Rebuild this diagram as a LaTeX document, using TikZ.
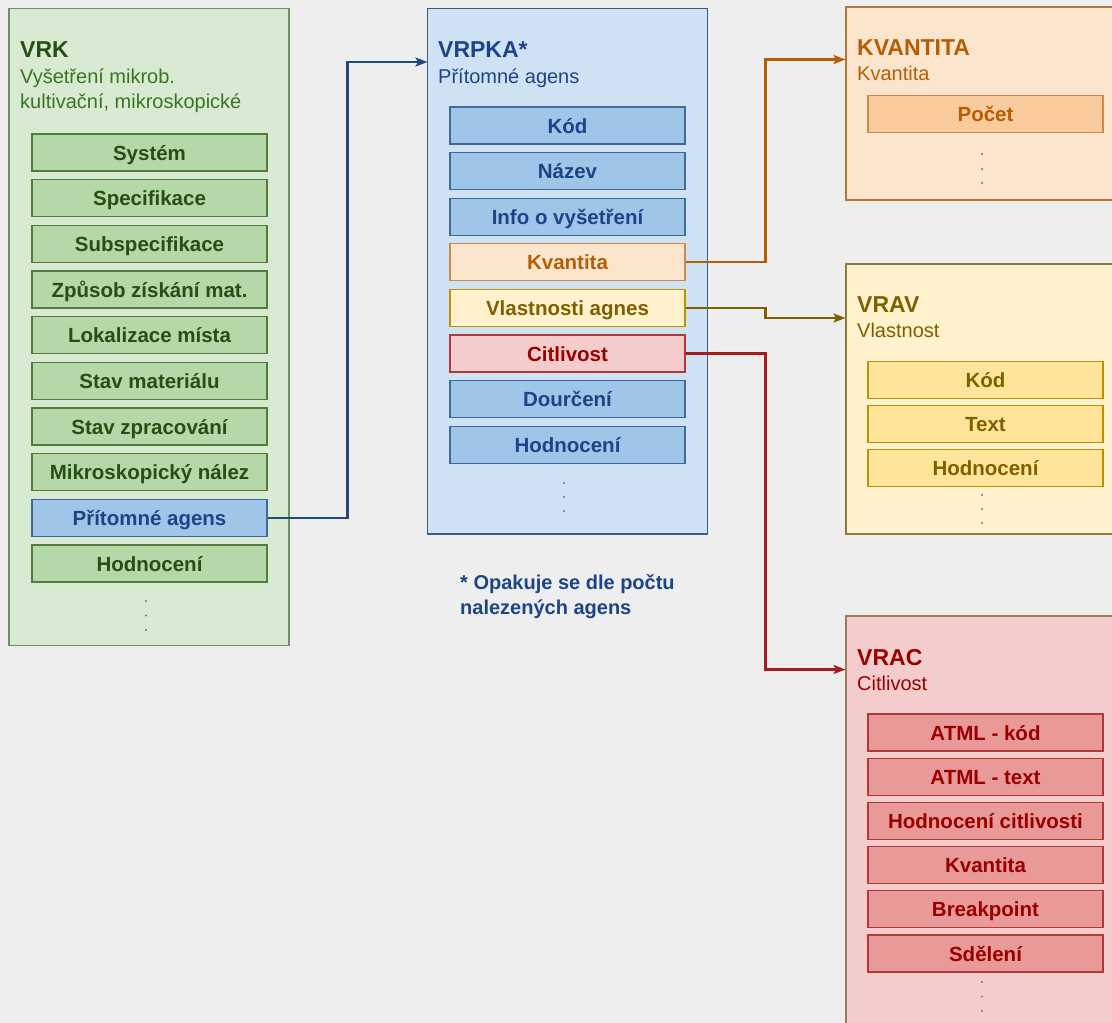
\documentclass[tikz,border=0pt]{standalone}
\usepackage{fontspec}
\setmainfont{Liberation Sans}
\usetikzlibrary{arrows.meta}
\definecolor{bg}{HTML}{EEEEEE}
% green
\definecolor{gOut}{HTML}{D9EAD3}\definecolor{gOutB}{HTML}{6E8F62}
\definecolor{gIt}{HTML}{B6D7A8}\definecolor{gItB}{HTML}{4F7D3C}
\definecolor{gTxt}{HTML}{274E13}\definecolor{gSub}{HTML}{38761D}
% blue
\definecolor{bOut}{HTML}{CFE2F3}\definecolor{bOutB}{HTML}{3D5A80}
\definecolor{bIt}{HTML}{9FC5E8}\definecolor{bItB}{HTML}{3D6A99}
\definecolor{bTxt}{HTML}{1C4587}\definecolor{bLine}{HTML}{1F4A7C}
% orange
\definecolor{oOut}{HTML}{FCE5CD}\definecolor{oOutB}{HTML}{B4773A}
\definecolor{oIt}{HTML}{F9CB9C}\definecolor{oItB}{HTML}{C98A4A}
\definecolor{oTxt}{HTML}{B45F06}
% yellow
\definecolor{yOut}{HTML}{FFF2CC}\definecolor{yOutB}{HTML}{8C7A3A}
\definecolor{yIt}{HTML}{FFE599}\definecolor{yItB}{HTML}{BF9000}
\definecolor{yTxt}{HTML}{7F6000}
% red
\definecolor{rOut}{HTML}{F4CCCC}\definecolor{rOutB}{HTML}{9C7A5A}
\definecolor{rIt}{HTML}{EA9999}\definecolor{rItB}{HTML}{B03A3A}
\definecolor{rTxt}{HTML}{990000}\definecolor{rLine}{HTML}{A61C1C}
\definecolor{dotc}{HTML}{777777}
\tikzset{
  outer/.style={draw, rectangle, line width=1.3pt, inner sep=0pt},
  item/.style={draw, rectangle, line width=1.1pt, inner sep=0pt,
    minimum width=235, minimum height=37, text height=15, text depth=0,
    font=\fontsize{20.5}{24}\selectfont\bfseries},
  ttl/.style={anchor=base west, inner sep=0pt, font=\fontsize{23}{27}\selectfont\bfseries},
  sub/.style={anchor=base west, inner sep=0pt, font=\fontsize{20}{24}\selectfont},
  gitem/.style={item, fill=gIt, draw=gItB, text=gTxt},
  bitem/.style={item, fill=bIt, draw=bItB, text=bTxt},
  oitem/.style={item, fill=oIt, draw=oItB, text=oTxt},
  yitem/.style={item, fill=yIt, draw=yItB, text=yTxt},
  ritem/.style={item, fill=rIt, draw=rItB, text=rTxt},
  conn/.style={line width=2.2pt, -{Stealth[length=12pt,width=9pt,inset=2.5pt]}},
  vdot/.style={fill=dotc}
}
\begin{document}
\begin{tikzpicture}[x=1pt,y=-1pt]
\useasboundingbox[fill=bg] (0,0) rectangle (1112,1023);

% ---------- VRK ----------
\node[outer, fill=gOut, draw=gOutB, minimum width=280, minimum height=636.5] (vrk) at (149,327) {};
\node[ttl, text=gTxt] (vrkT) at (20,57) {VRK};
\node[sub, text=gSub] (vrkS1) at (20,83) {Vyšetření mikrob.};
\node[sub, text=gSub] (vrkS2) at (20,108) {kultivační, mikroskopické};
\node[gitem] (k1) at (149.5,152.5) {Systém};
\node[gitem] (k2) at (149.5,198.2) {Specifikace};
\node[gitem] (k3) at (149.5,243.8) {Subspecifikace};
\node[gitem] (k4) at (149.5,289.5) {Způsob získání mat.};
\node[gitem] (k5) at (149.5,335.2) {Lokalizace místa};
\node[gitem] (k6) at (149.5,380.8) {Stav materiálu};
\node[gitem] (k7) at (149.5,426.5) {Stav zpracování};
\node[gitem] (k8) at (149.5,472.2) {Mikroskopický nález};
\node[bitem] (pa) at (149.5,517.8) {Přítomné agens};
\node[gitem] (k10) at (149.5,563.5) {Hodnocení};
\fill[vdot] (146,601) circle (1.1) (146,615.5) circle (1.1) (146,630) circle (1.1);

% ---------- VRPKA ----------
\node[outer, fill=bOut, draw=bOutB, minimum width=280, minimum height=525.5] (vrpka) at (567.5,271.3) {};
\node[ttl, text=bTxt] (vrpkaT) at (438,57) {VRPKA*};
\node[sub, text=bTxt] (vrpkaS) at (438,83) {Přítomné agens};
\node[bitem] (p1) at (567.5,125.5) {Kód};
\node[bitem] (p2) at (567.5,171.1) {Název};
\node[bitem] (p3) at (567.5,216.7) {Info o vyšetření};
\node[item, fill=oOut, draw=oItB, text=oTxt] (kv) at (567.5,262.3) {Kvantita};
\node[item, fill=yOut, draw=yItB, text=yTxt] (vl) at (567.5,307.9) {Vlastnosti agnes};
\node[item, fill=rOut, draw=rItB, text=rTxt] (ci) at (567.5,353.5) {Citlivost};
\node[bitem] (p7) at (567.5,399.1) {Dourčení};
\node[bitem] (p8) at (567.5,444.7) {Hodnocení};
\fill[vdot] (564,483) circle (1.1) (564,497) circle (1.1) (564,511) circle (1.1);

\node[anchor=base west, inner sep=0pt, text=bTxt, font=\fontsize{20}{24}\selectfont\bfseries] (note1) at (460,589) {* Opakuje se dle počtu};
\node[anchor=base west, inner sep=0pt, text=bTxt, font=\fontsize{20}{24}\selectfont\bfseries] (note2) at (460,614) {nalezených agens};

% ---------- KVANTITA ----------
\node[outer, fill=oOut, draw=oOutB, minimum width=280, minimum height=193] (kvb) at (986,103.5) {};
\node[ttl, text=oTxt] (kvT) at (857,55) {KVANTITA};
\node[sub, text=oTxt] (kvS) at (857,80) {Kvantita};
\node[oitem] (q1) at (985.5,114) {Počet};
\fill[vdot] (982,154) circle (1.1) (982,169) circle (1.1) (982,183) circle (1.1);

% ---------- VRAV ----------
\node[outer, fill=yOut, draw=yOutB, minimum width=280, minimum height=270] (vrav) at (986,399) {};
\node[ttl, text=yTxt] (vravT) at (857,312.5) {VRAV};
\node[sub, text=yTxt] (vravS) at (857,337) {Vlastnost};
\node[yitem] (v1) at (985.5,380) {Kód};
\node[yitem] (v2) at (985.5,424) {Text};
\node[yitem] (v3) at (985.5,468) {Hodnocení};
\fill[vdot] (982,495) circle (1.1) (982,509) circle (1.1) (982,523) circle (1.1);

% ---------- VRAC ----------
\node[outer, fill=rOut, draw=rOutB, minimum width=280, minimum height=430] (vrac) at (986,831) {};
\node[ttl, text=rTxt] (vracT) at (857,665) {VRAC};
\node[sub, text=rTxt] (vracS) at (857,690) {Citlivost};
\node[ritem] (c1) at (985.5,732.5) {ATML - kód};
\node[ritem] (c2) at (985.5,776.7) {ATML - text};
\node[ritem] (c3) at (985.5,820.9) {Hodnocení citlivosti};
\node[ritem] (c4) at (985.5,865.1) {Kvantita};
\node[ritem] (c5) at (985.5,909.3) {Breakpoint};
\node[ritem] (c6) at (985.5,953.5) {Sdělení};
\fill[vdot] (982,982) circle (1.1) (982,996.5) circle (1.1) (982,1011) circle (1.1);

% ---------- connectors ----------
\coordinate (vrpkaIn) at (427.5,62);
\coordinate (kvIn) at (845.5,59.5);
\coordinate (vravIn) at (845.5,318);
\coordinate (vracIn) at (845.5,669.5);
\draw[conn, draw=bLine] (pa.east) -- ++(80,0) |- (vrpkaIn);
\draw[conn, draw=oTxt] (kv.east) -- ++(80,0) |- (kvIn);
\draw[conn, draw=yTxt] (vl.east) -- ++(80,0) |- (vravIn);
\draw[conn, draw=rLine] (ci.east) -- ++(80,0) |- (vracIn);
\end{tikzpicture}
\end{document}
